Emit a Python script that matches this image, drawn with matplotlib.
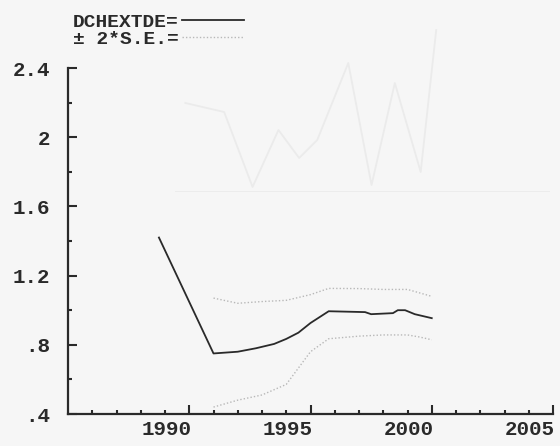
import matplotlib
matplotlib.use('Agg')
import matplotlib.pyplot as plt
import matplotlib.transforms as mtransforms

# ── data ─────────────────────────────────────────────────────────
years_main = [1988.75, 1991.0, 1992.0, 1992.75, 1993.5, 1994.0, 1994.5,
              1995.0, 1995.75, 1997.25, 1997.5, 1998.4, 1998.6, 1998.9,
              1999.3, 2000.0]
dchextde = [1.42, 0.75, 0.76, 0.78, 0.805, 0.834, 0.87,
            0.926, 0.994, 0.989, 0.977, 0.983, 1.0, 1.0,
            0.977, 0.954]

years_band = [1991.0, 1992.0, 1993.0, 1994.0, 1995.0, 1995.75, 1997.0,
              1998.0, 1999.0, 1999.5, 2000.0]
upper_se = [1.07, 1.04, 1.05, 1.057, 1.09, 1.126, 1.125,
            1.12, 1.12, 1.10, 1.08]
lower_se = [0.44, 0.48, 0.51, 0.571, 0.76, 0.835, 0.85,
            0.857, 0.857, 0.845, 0.829]

ytick_vals = [0.4, 0.8, 1.2, 1.6, 2.0, 2.4]
ytick_labels = ['.4', '.8', '1.2', '1.6', '2', '2.4']
xtick_vals = [1990, 1995, 2000, 2005]
xtick_labels = ['1990', '1995', '2000', '2005']

# faint bleed-through from the other side of the page
ghost_x = [1991.7, 1993.2, 1994.3, 1995.3, 1996.1, 1996.8, 1998.0,
           1998.9, 1999.8, 2000.8, 2001.4]
ghost_y = [0.89, 0.80, 0.05, 0.62, 0.34, 0.52, 1.29, 0.07, 1.09, 0.20, 1.62]

# ── figure ───────────────────────────────────────────────────────
bg = '#f6f6f6'
ink = '#2a2a2a'
font = 'Liberation Mono'

fig = plt.figure(figsize=(5.6, 4.46), dpi=100, facecolor=bg)

# ghost chart (very faint)
gax = fig.add_axes([175/560, 1 - 192/446, 375/560, 172/446])
gax.set_xlim(1991.3, 2005.8)
gax.set_ylim(0, 1.72)
gax.plot(ghost_x, ghost_y, color='#ebebeb', lw=1.3)
gax.axhline(0, color='#ebebeb', lw=1.3)
gax.axis('off')

ax = fig.add_axes([68/560, 1 - 414/446, 485/560, 346/446])
ax.set_facecolor('none')

ax.plot(years_main, dchextde, color=ink, lw=1.3, label='DCHEXTDE=')
ax.plot(years_band, upper_se, color='#b8b8b8', lw=1.0,
        linestyle=(0, (1, 1.5)), label='± 2*S.E.=')
ax.plot(years_band, lower_se, color='#b8b8b8', lw=1.0,
        linestyle=(0, (1, 1.5)))

ax.set_xlim(1985, 2005)
ax.set_ylim(0.4, 2.4)

ax.spines[['top', 'right']].set_visible(False)
for s in ['left', 'bottom']:
    ax.spines[s].set_linewidth(1.6)
    ax.spines[s].set_color(ink)

ax.set_yticks(ytick_vals)
ax.set_yticklabels(ytick_labels)
ax.set_yticks([0.6, 1.0, 1.4, 1.8, 2.2], minor=True)
ax.set_xticks(xtick_vals)
ax.set_xticklabels(xtick_labels)
ax.set_xticks(range(1986, 2005), minor=True)

ax.tick_params(axis='both', which='major', direction='in', color=ink,
               width=1.5, labelsize=15, labelcolor=ink)
ax.tick_params(axis='y', which='major', length=6.5, pad=13)
ax.tick_params(axis='x', which='major', length=6.5, pad=4)
ax.tick_params(axis='both', which='minor', direction='in', color=ink,
               width=1.5, length=3)

for lab in ax.get_xticklabels() + ax.get_yticklabels():
    lab.set_fontfamily(font)
    lab.set_fontweight('bold')

# x labels sit one year left of their long tick in the original
shift = mtransforms.ScaledTranslation(-0.23, 0, fig.dpi_scale_trans)
for lab in ax.get_xticklabels():
    lab.set_transform(lab.get_transform() + shift)

leg = ax.legend(loc='upper left', bbox_to_anchor=(73/560, 1 - 13/446),
                bbox_transform=fig.transFigure, frameon=False,
                markerfirst=False, borderpad=0, borderaxespad=0,
                handlelength=3.2, handletextpad=0.15, labelspacing=0.0,
                prop={'family': font, 'weight': 'bold', 'size': 14})
for t in leg.get_texts():
    t.set_color(ink)

plt.savefig('out.png', dpi=100, facecolor=bg)
